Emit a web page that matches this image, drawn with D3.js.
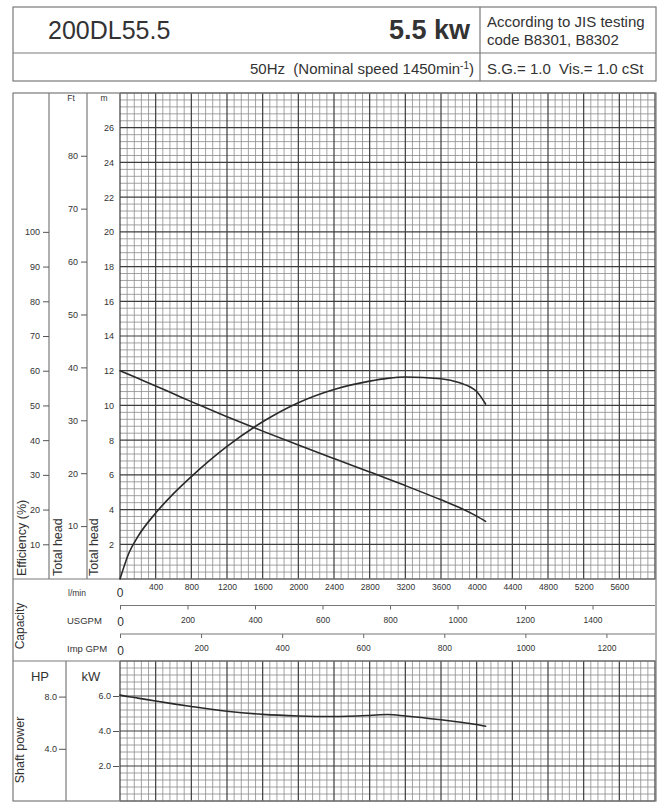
<!DOCTYPE html>
<html><head><meta charset="utf-8">
<script src="https://cdn.jsdelivr.net/npm/d3@7"></script>
<style>
body{margin:0;background:#fff}
svg{display:block}
text{font-family:"Liberation Sans",Arial,Helvetica,sans-serif;fill:#333}
</style>
</head><body>
<svg id="chart" width="662" height="806"></svg>
<script>
// ---------------- data ----------------
const modelName = "200DL55.5";
const motorPower = "5.5 kw";
const standardLines = ["According to JIS testing", "code B8301, B8302"];
const speedText = "50Hz  (Nominal speed 1450min";
const fluidText = "S.G.= 1.0  Vis.= 1.0 cSt";

const flowLmin      = [0,    100,  200,  400,  600,  800,  1200, 1600, 2000, 2400, 2800, 3000, 3200, 3600, 3800, 4000, 4100];
const headM         = [12.0, 11.78,11.56,11.12,10.67,10.22,9.35, 8.52, 7.72, 6.94, 6.17, 5.78, 5.38, 4.56, 4.13, 3.62, 3.32];
const efficiencyPct = [0,    7.5,  12.2, 19.0, 24.6, 29.5, 38.2, 45.3, 50.8, 54.6, 57.0, 57.8, 58.2, 57.7, 56.6, 54.0, 50.4];
const shaftKW       = [6.05, 5.96, 5.88, 5.71, 5.55, 5.40, 5.13, 4.95, 4.86, 4.83, 4.89, 4.94, 4.86, 4.64, 4.51, 4.37, 4.27];

const lminTicks  = [400,800,1200,1600,2000,2400,2800,3200,3600,4000,4400,4800,5200,5600];
const usgpmTicks = [0,200,400,600,800,1000,1200,1400];
const impTicks   = [0,200,400,600,800,1000,1200];
const effTicks   = [10,20,30,40,50,60,70,80,90,100];
const ftTicks    = [10,20,30,40,50,60,70,80];
const mTicks     = [2,4,6,8,10,12,14,16,18,20,22,24,26];
const hpTicks    = [4.0, 8.0];
const kwTicks    = [2.0, 4.0, 6.0];

// ---------------- layout ----------------
const svg = d3.select("#chart");
const L = 13, R = 656;
const gridL = 120, gridR = 655;
const gridTop = 93, gridBot = 579;
const capBot = 661, pwrBot = 801;

const x     = d3.scaleLinear([0, 6000], [gridL, gridR]);
const xUS   = d3.scaleLinear([0, 6000 / 3.78541], [gridL, gridR]);
const xImp  = d3.scaleLinear([0, 6000 / 4.54609], [gridL, gridR]);
const yH    = d3.scaleLinear([0, 28], [gridBot, gridTop]);
const yE    = d3.scaleLinear([0, 140], [gridBot, gridTop]);
const yFt   = d3.scaleLinear([0, 28 * 3.28084], [gridBot, gridTop]);
const yKW   = d3.scaleLinear([0, 8], [pwrBot, capBot]);
const yHP   = d3.scaleLinear([0, 8 / 0.7457], [pwrBot, capBot]);

const border = "#7a7a7a";
const intFmt = d3.format("d");

// ---------------- header ----------------
const hdr = svg.append("g");
hdr.append("rect").attr("x", L).attr("y", 7).attr("width", R - L).attr("height", 74)
  .attr("fill", "none").attr("stroke", border).attr("stroke-width", 1.2);
hdr.append("line").attr("x1", L).attr("x2", R).attr("y1", 53).attr("y2", 53).attr("stroke", border).attr("stroke-width", 1.2);
hdr.append("line").attr("x1", 480).attr("x2", 480).attr("y1", 7).attr("y2", 81).attr("stroke", border).attr("stroke-width", 1.2);
hdr.append("text").attr("x", 48).attr("y", 39).attr("font-size", 25).attr("fill", "#3a3a3a").text(modelName);
hdr.append("text").attr("x", 470).attr("y", 39).attr("text-anchor", "end").attr("font-size", 27).attr("font-weight", "bold").text(motorPower);
standardLines.forEach((t, i) => hdr.append("text").attr("x", 487).attr("y", 27 + i * 18).attr("font-size", 15).text(t));
const sp = hdr.append("text").attr("x", 474).attr("y", 74).attr("text-anchor", "end").attr("font-size", 15).style("white-space", "pre");
sp.append("tspan").text(speedText);
sp.append("tspan").attr("dy", -5).attr("font-size", 10).text("-1");
sp.append("tspan").attr("dy", 5).text(")");
hdr.append("text").attr("x", 487).attr("y", 74).attr("font-size", 15).style("white-space", "pre").text(fluidText);

// ---------------- grids ----------------
function drawGrid(g, yScale, yMax, yStep) {
  const nx = Math.round(6000 / 80);
  const ny = Math.round(yMax / yStep);
  const minor = g.append("g").attr("stroke", "#8c8c8c").attr("stroke-width", 0.8);
  const major = g.append("g").attr("stroke", "#3c3c3c").attr("stroke-width", 1.2);
  d3.range(0, nx + 1).forEach(i => {
    const gx = x(i * 80);
    (i % 5 === 0 ? major : minor).append("line")
      .attr("x1", gx).attr("x2", gx).attr("y1", yScale(0)).attr("y2", yScale(yMax));
  });
  d3.range(0, ny + 1).forEach(i => {
    const gy = yScale(i * yStep);
    (i % 5 === 0 ? major : minor).append("line")
      .attr("x1", gridL).attr("x2", gridR).attr("y1", gy).attr("y2", gy);
  });
}
drawGrid(svg.append("g"), yH, 28, 0.4);
drawGrid(svg.append("g"), yKW, 8, 0.4);

// ---------------- frame lines ----------------
const fr = svg.append("g").attr("stroke", border).attr("stroke-width", 1.2).attr("fill", "none");
fr.append("rect").attr("x", L).attr("y", gridTop).attr("width", R - L).attr("height", pwrBot - gridTop);
fr.append("line").attr("x1", 49).attr("x2", 49).attr("y1", gridTop).attr("y2", gridBot);
fr.append("line").attr("x1", 87).attr("x2", 87).attr("y1", gridTop).attr("y2", gridBot);
fr.append("line").attr("x1", L).attr("x2", R).attr("y1", gridBot).attr("y2", gridBot);
fr.append("line").attr("x1", L).attr("x2", R).attr("y1", capBot).attr("y2", capBot);
fr.append("line").attr("x1", 66).attr("x2", 66).attr("y1", capBot).attr("y2", pwrBot);

// ---------------- axes ----------------
function styleAxis(g, size) {
  g.select(".domain").remove();
  g.selectAll(".tick line").attr("stroke", "#555").attr("stroke-width", 1);
  g.selectAll(".tick text").attr("font-size", size).attr("fill", "#3a3a3a").attr("font-family", "Liberation Sans, Arial, sans-serif");
}
const effAx = svg.append("g").attr("transform", "translate(49,0)")
  .call(d3.axisLeft(yE).tickValues(effTicks).tickSize(6).tickPadding(3).tickFormat(intFmt));
styleAxis(effAx, 9);
const ftAx = svg.append("g").attr("transform", "translate(87,0)")
  .call(d3.axisLeft(yFt).tickValues(ftTicks).tickSize(6).tickPadding(3).tickFormat(intFmt));
styleAxis(ftAx, 9);
const mAx = svg.append("g").attr("transform", `translate(${gridL},0)`)
  .call(d3.axisLeft(yH).tickValues(mTicks).tickSize(0).tickPadding(6).tickFormat(intFmt));
styleAxis(mAx, 9);

svg.append("text").attr("x", 71).attr("y", 101).attr("text-anchor", "middle").attr("font-size", 8.5).text("Ft");
svg.append("text").attr("x", 104).attr("y", 101).attr("text-anchor", "middle").attr("font-size", 8.5).text("m");

function vLabel(txt, cx, yBottom, size, anchor) {
  svg.append("text").attr("transform", `translate(${cx},${yBottom}) rotate(-90)`)
    .attr("text-anchor", anchor || "start").attr("dy", "0.35em").attr("font-size", size).text(txt);
}
vLabel("Efficiency (%)", 22, 576, 12.5);
vLabel("Total head", 58, 576, 12.5);
vLabel("Total head", 94, 576, 12.5);

// capacity
const lAx = svg.append("g").attr("transform", `translate(0,${gridBot})`)
  .call(d3.axisBottom(x).tickValues(lminTicks).tickSize(0).tickPadding(5).tickFormat(intFmt));
styleAxis(lAx, 8.5);
svg.append("text").attr("x", x(0)).attr("y", 597).attr("text-anchor", "middle").attr("font-size", 12).text("0");
svg.append("text").attr("x", 77).attr("y", 596).attr("text-anchor", "middle").attr("font-size", 8.5).text("l/min");

function capAxis(scale, ticks, yLine, label) {
  const g = svg.append("g").attr("transform", `translate(0,${yLine})`)
    .call(d3.axisBottom(scale).tickValues(ticks).tickSize(4).tickSizeOuter(0).tickPadding(6).tickFormat(intFmt));
  g.select(".domain").remove();
  g.selectAll(".tick line").attr("stroke", "#666");
  g.selectAll(".tick text").attr("font-size", d => d === 0 ? 12 : 8.5).attr("fill", "#3a3a3a")
    .attr("dy", d => d === 0 ? "0.9em" : "0.85em");
  svg.append("line").attr("x1", gridL).attr("x2", gridR).attr("y1", yLine).attr("y2", yLine)
    .attr("stroke", "#777").attr("stroke-width", 1.1);
  svg.append("text").attr("x", 67).attr("y", yLine + 18).attr("font-size", 9.5).text(label);
}
capAxis(xUS, usgpmTicks, 605.5, "USGPM");
capAxis(xImp, impTicks, 634, "Imp GPM");
vLabel("Capacity", 20, 626, 12, "middle");

// shaft power
const hpAx = svg.append("g").attr("transform", "translate(66,0)")
  .call(d3.axisLeft(yHP).tickValues(hpTicks).tickSize(7).tickPadding(2).tickFormat(d3.format(".1f")));
styleAxis(hpAx, 9);
const kwAx = svg.append("g").attr("transform", `translate(${gridL - 1},0)`)
  .call(d3.axisLeft(yKW).tickValues(kwTicks).tickSize(6).tickPadding(2).tickFormat(d3.format(".1f")));
styleAxis(kwAx, 9);
svg.append("text").attr("x", 40).attr("y", 681).attr("text-anchor", "middle").attr("font-size", 13).text("HP");
svg.append("text").attr("x", 91).attr("y", 681).attr("text-anchor", "middle").attr("font-size", 13).text("kW");
vLabel("Shaft power", 20, 750, 12.5, "middle");

// ---------------- curves ----------------
const curveStyle = p => p.attr("fill", "none").attr("stroke", "#2a2a2a").attr("stroke-width", 1.6).attr("stroke-linecap", "round");
const pts = vals => flowLmin.map((q, i) => [q, vals[i]]);
svg.append("path").datum(pts(headM))
  .attr("d", d3.line().x(d => x(d[0])).y(d => yH(d[1])).curve(d3.curveMonotoneX)).call(curveStyle);
svg.append("path").datum(pts(efficiencyPct))
  .attr("d", d3.line().x(d => x(d[0])).y(d => yE(d[1])).curve(d3.curveMonotoneX)).call(curveStyle);
svg.append("path").datum(pts(shaftKW))
  .attr("d", d3.line().x(d => x(d[0])).y(d => yKW(d[1])).curve(d3.curveMonotoneX)).call(curveStyle);
</script>
</body></html>
